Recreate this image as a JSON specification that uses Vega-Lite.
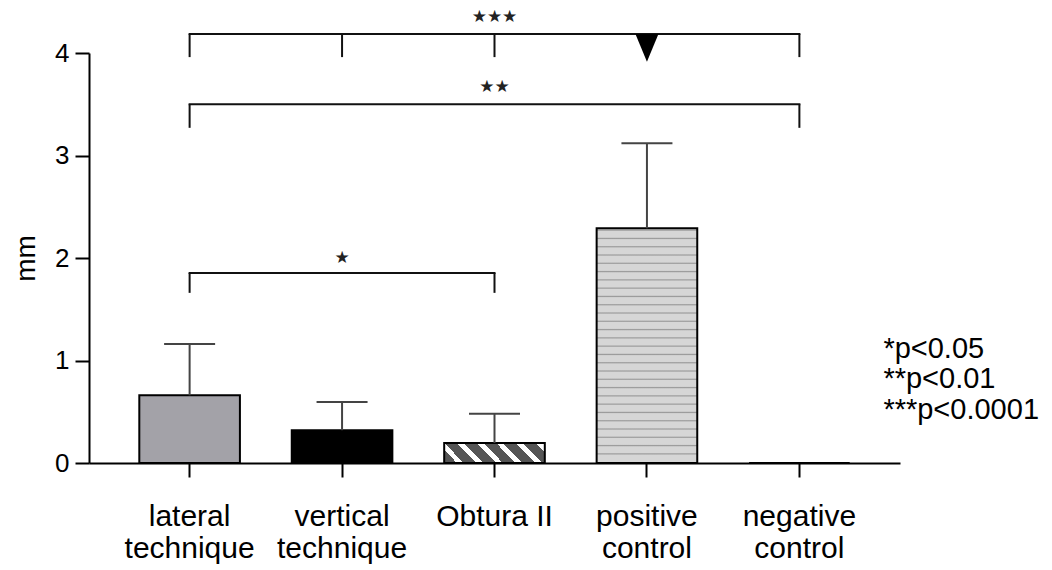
{
  "$schema": "https://vega.github.io/schema/vega-lite/v6.json",
  "autosize": "none",
  "width": 811,
  "height": 410,
  "padding": {"left": 89, "top": 53, "right": 152, "bottom": 107},
  "background": "white",
  "config": {
    "view": {"stroke": null},
    "font": "Liberation Sans",
    "axis": {"grid": false, "domainColor": "black", "domainWidth": 2, "tickColor": "black", "tickWidth": 2, "tickSize": 14, "labelColor": "black", "titleColor": "black", "labelFont": "Liberation Sans", "titleFont": "Liberation Sans"}
  },
  "datasets": {
    "bars": [
      {"group": "lateral technique", "value": 0.66, "err": 1.16},
      {"group": "vertical technique", "value": 0.32, "err": 0.595},
      {"group": "Obtura II", "value": 0.195, "err": 0.48},
      {"group": "positive control", "value": 2.29, "err": 3.12},
      {"group": "negative control", "value": 0, "err": 0}
    ],
    "brackets": [
      {"from": "lateral technique", "to": "negative control", "y": 4.185},
      {"from": "lateral technique", "to": "negative control", "y": 3.5},
      {"from": "lateral technique", "to": "Obtura II", "y": 1.854}
    ],
    "legs": [
      {"group": "lateral technique", "y": 4.185, "y2": 3.96},
      {"group": "vertical technique", "y": 4.185, "y2": 3.96},
      {"group": "Obtura II", "y": 4.185, "y2": 3.96},
      {"group": "negative control", "y": 4.185, "y2": 3.96},
      {"group": "lateral technique", "y": 3.5, "y2": 3.27},
      {"group": "negative control", "y": 3.5, "y2": 3.27},
      {"group": "lateral technique", "y": 1.854, "y2": 1.66},
      {"group": "Obtura II", "y": 1.854, "y2": 1.66}
    ],
    "stars": [
      {"group": "Obtura II", "y": 4.35, "label": "★★★"},
      {"group": "Obtura II", "y": 3.67, "label": "★★"},
      {"group": "vertical technique", "y": 2.0, "label": "★"}
    ],
    "marker": [
      {"group": "positive control", "y": 4.05}
    ],
    "notes": [
      {"group": "negative control", "y": 1.11, "label": "*p<0.05"},
      {"group": "negative control", "y": 0.815, "label": "**p<0.01"},
      {"group": "negative control", "y": 0.52, "label": "***p<0.0001"}
    ]
  },
  "layer": [
    {
      "data": {"name": "bars"},
      "transform": [{"filter": "datum.group === 'lateral technique' || datum.group === 'vertical technique' || datum.group === 'negative control'"}],
      "mark": {"type": "bar", "stroke": "black", "strokeWidth": 2},
      "encoding": {
        "x": {"field": "group", "type": "nominal", "sort": null,
          "scale": {"domain": ["lateral technique", "vertical technique", "Obtura II", "positive control", "negative control"], "paddingInner": 0.34, "paddingOuter": 0.33},
          "axis": {"title": null, "labelAngle": 0, "labelFontSize": 30, "labelLineHeight": 32, "labelPadding": 24, "labelExpr": "datum.label == 'Obtura II' ? 'Obtura II' : split(datum.label, ' ')"}},
        "y": {"field": "value", "type": "quantitative", "title": "mm", "scale": {"domain": [0, 4], "nice": false},
          "axis": {"title": "mm", "values": [0, 1, 2, 3, 4], "format": "d", "labelFontSize": 26, "labelPadding": 6, "titleFontSize": 28, "titleFontWeight": "normal", "titlePadding": 14}},
        "fill": {"field": "group", "type": "nominal", "scale": {"domain": ["lateral technique", "vertical technique", "negative control"], "range": ["#a3a2a8", "#000000", "#ffffff"]}, "legend": null}
      }
    },
    {
      "data": {"name": "bars"},
      "transform": [{"filter": "datum.group === 'Obtura II'"}],
      "mark": {"type": "bar", "stroke": "black", "strokeWidth": 2,
        "fill": {"gradient": "linear", "x1": 0, "y1": 1, "x2": 1.15, "y2": 0.777, "stops": [
          {"offset": 0, "color": "#555555"}, {"offset": 0.106, "color": "#555555"}, {"offset": 0.106, "color": "#ffffff"}, {"offset": 0.163, "color": "#ffffff"},
          {"offset": 0.163, "color": "#555555"}, {"offset": 0.269, "color": "#555555"}, {"offset": 0.269, "color": "#ffffff"}, {"offset": 0.326, "color": "#ffffff"},
          {"offset": 0.326, "color": "#555555"}, {"offset": 0.432, "color": "#555555"}, {"offset": 0.432, "color": "#ffffff"}, {"offset": 0.489, "color": "#ffffff"},
          {"offset": 0.489, "color": "#555555"}, {"offset": 0.595, "color": "#555555"}, {"offset": 0.595, "color": "#ffffff"}, {"offset": 0.652, "color": "#ffffff"},
          {"offset": 0.652, "color": "#555555"}, {"offset": 0.758, "color": "#555555"}, {"offset": 0.758, "color": "#ffffff"}, {"offset": 0.815, "color": "#ffffff"},
          {"offset": 0.815, "color": "#555555"}, {"offset": 0.921, "color": "#555555"}, {"offset": 0.921, "color": "#ffffff"}, {"offset": 0.978, "color": "#ffffff"},
          {"offset": 0.978, "color": "#555555"}, {"offset": 1, "color": "#555555"}
        ]}},
      "encoding": {
        "x": {"field": "group", "type": "nominal", "sort": null, "axis": {"title": null}},
        "y": {"field": "value", "type": "quantitative", "title": "mm"}
      }
    },
    {
      "data": {"name": "bars"},
      "transform": [{"filter": "datum.group === 'positive control'"}],
      "mark": {"type": "bar", "stroke": "black", "strokeWidth": 2,
        "fill": {"gradient": "linear", "x1": 0, "y1": 0, "x2": 0, "y2": 1, "stops": [
          {"offset": 0, "color": "#d6d6d6"},
          {"offset": 0.003, "color": "#d6d6d6"}, {"offset": 0.008, "color": "#999999"}, {"offset": 0.013, "color": "#d6d6d6"},
          {"offset": 0.0383, "color": "#d6d6d6"}, {"offset": 0.0433, "color": "#999999"}, {"offset": 0.0483, "color": "#d6d6d6"},
          {"offset": 0.0736, "color": "#d6d6d6"}, {"offset": 0.0786, "color": "#999999"}, {"offset": 0.0836, "color": "#d6d6d6"},
          {"offset": 0.1089, "color": "#d6d6d6"}, {"offset": 0.1139, "color": "#999999"}, {"offset": 0.1189, "color": "#d6d6d6"},
          {"offset": 0.1442, "color": "#d6d6d6"}, {"offset": 0.1492, "color": "#999999"}, {"offset": 0.1542, "color": "#d6d6d6"},
          {"offset": 0.1795, "color": "#d6d6d6"}, {"offset": 0.1845, "color": "#999999"}, {"offset": 0.1895, "color": "#d6d6d6"},
          {"offset": 0.2148, "color": "#d6d6d6"}, {"offset": 0.2198, "color": "#999999"}, {"offset": 0.2248, "color": "#d6d6d6"},
          {"offset": 0.2501, "color": "#d6d6d6"}, {"offset": 0.2551, "color": "#999999"}, {"offset": 0.2601, "color": "#d6d6d6"},
          {"offset": 0.2854, "color": "#d6d6d6"}, {"offset": 0.2904, "color": "#999999"}, {"offset": 0.2954, "color": "#d6d6d6"},
          {"offset": 0.3207, "color": "#d6d6d6"}, {"offset": 0.3257, "color": "#999999"}, {"offset": 0.3307, "color": "#d6d6d6"},
          {"offset": 0.356, "color": "#d6d6d6"}, {"offset": 0.361, "color": "#999999"}, {"offset": 0.366, "color": "#d6d6d6"},
          {"offset": 0.3913, "color": "#d6d6d6"}, {"offset": 0.3963, "color": "#999999"}, {"offset": 0.4013, "color": "#d6d6d6"},
          {"offset": 0.4266, "color": "#d6d6d6"}, {"offset": 0.4316, "color": "#999999"}, {"offset": 0.4366, "color": "#d6d6d6"},
          {"offset": 0.4619, "color": "#d6d6d6"}, {"offset": 0.4669, "color": "#999999"}, {"offset": 0.4719, "color": "#d6d6d6"},
          {"offset": 0.4972, "color": "#d6d6d6"}, {"offset": 0.5022, "color": "#999999"}, {"offset": 0.5072, "color": "#d6d6d6"},
          {"offset": 0.5325, "color": "#d6d6d6"}, {"offset": 0.5375, "color": "#999999"}, {"offset": 0.5425, "color": "#d6d6d6"},
          {"offset": 0.5678, "color": "#d6d6d6"}, {"offset": 0.5728, "color": "#999999"}, {"offset": 0.5778, "color": "#d6d6d6"},
          {"offset": 0.6031, "color": "#d6d6d6"}, {"offset": 0.6081, "color": "#999999"}, {"offset": 0.6131, "color": "#d6d6d6"},
          {"offset": 0.6384, "color": "#d6d6d6"}, {"offset": 0.6434, "color": "#999999"}, {"offset": 0.6484, "color": "#d6d6d6"},
          {"offset": 0.6737, "color": "#d6d6d6"}, {"offset": 0.6787, "color": "#999999"}, {"offset": 0.6837, "color": "#d6d6d6"},
          {"offset": 0.709, "color": "#d6d6d6"}, {"offset": 0.714, "color": "#999999"}, {"offset": 0.719, "color": "#d6d6d6"},
          {"offset": 0.7443, "color": "#d6d6d6"}, {"offset": 0.7493, "color": "#999999"}, {"offset": 0.7543, "color": "#d6d6d6"},
          {"offset": 0.7796, "color": "#d6d6d6"}, {"offset": 0.7846, "color": "#999999"}, {"offset": 0.7896, "color": "#d6d6d6"},
          {"offset": 0.8149, "color": "#d6d6d6"}, {"offset": 0.8199, "color": "#999999"}, {"offset": 0.8249, "color": "#d6d6d6"},
          {"offset": 0.8502, "color": "#d6d6d6"}, {"offset": 0.8552, "color": "#999999"}, {"offset": 0.8602, "color": "#d6d6d6"},
          {"offset": 0.8855, "color": "#d6d6d6"}, {"offset": 0.8905, "color": "#999999"}, {"offset": 0.8955, "color": "#d6d6d6"},
          {"offset": 0.9208, "color": "#d6d6d6"}, {"offset": 0.9258, "color": "#999999"}, {"offset": 0.9308, "color": "#d6d6d6"},
          {"offset": 0.9561, "color": "#d6d6d6"}, {"offset": 0.9611, "color": "#999999"}, {"offset": 0.9661, "color": "#d6d6d6"},
          {"offset": 1, "color": "#d6d6d6"}
        ]}},
      "encoding": {
        "x": {"field": "group", "type": "nominal", "sort": null, "axis": {"title": null}},
        "y": {"field": "value", "type": "quantitative", "title": "mm"}
      }
    },
    {
      "data": {"name": "bars"},
      "transform": [{"filter": "datum.err > datum.value"}],
      "mark": {"type": "rule", "color": "#444444", "strokeWidth": 2},
      "encoding": {
        "x": {"field": "group", "type": "nominal", "sort": null, "axis": {"title": null}},
        "y": {"field": "value", "type": "quantitative", "title": "mm"},
        "y2": {"field": "err"}
      }
    },
    {
      "data": {"name": "bars"},
      "transform": [{"filter": "datum.err > datum.value"}],
      "mark": {"type": "tick", "color": "#444444", "size": 51, "thickness": 2, "opacity": 1},
      "encoding": {
        "x": {"field": "group", "type": "nominal", "sort": null, "axis": {"title": null}},
        "y": {"field": "err", "type": "quantitative", "title": "mm"}
      }
    },
    {
      "data": {"name": "brackets"},
      "mark": {"type": "rule", "color": "#111111", "strokeWidth": 2, "strokeCap": "square"},
      "encoding": {
        "x": {"field": "from", "type": "nominal", "bandPosition": 0.5, "axis": {"title": null}},
        "x2": {"field": "to", "bandPosition": 0.5},
        "y": {"field": "y", "type": "quantitative", "title": "mm"}
      }
    },
    {
      "data": {"name": "legs"},
      "mark": {"type": "rule", "color": "#111111", "strokeWidth": 2},
      "encoding": {
        "x": {"field": "group", "type": "nominal", "axis": {"title": null}},
        "y": {"field": "y", "type": "quantitative", "title": "mm"},
        "y2": {"field": "y2"}
      }
    },
    {
      "data": {"name": "marker"},
      "mark": {"type": "point", "shape": "M-1,-1.2L1,-1.2L0,1.2Z", "filled": true, "color": "black", "size": 529, "opacity": 1},
      "encoding": {
        "x": {"field": "group", "type": "nominal", "axis": {"title": null}},
        "y": {"field": "y", "type": "quantitative", "title": "mm"}
      }
    },
    {
      "data": {"name": "stars"},
      "mark": {"type": "text", "font": "DejaVu Sans", "fontSize": 17, "color": "#222222", "baseline": "middle", "align": "center"},
      "encoding": {
        "x": {"field": "group", "type": "nominal", "axis": {"title": null}},
        "y": {"field": "y", "type": "quantitative", "title": "mm"},
        "text": {"field": "label"}
      }
    },
    {
      "data": {"name": "notes"},
      "mark": {"type": "text", "font": "Liberation Sans", "fontSize": 29, "color": "black", "baseline": "middle", "align": "left", "dx": 84},
      "encoding": {
        "x": {"field": "group", "type": "nominal", "axis": {"title": null}},
        "y": {"field": "y", "type": "quantitative", "title": "mm"},
        "text": {"field": "label"}
      }
    }
  ]
}
